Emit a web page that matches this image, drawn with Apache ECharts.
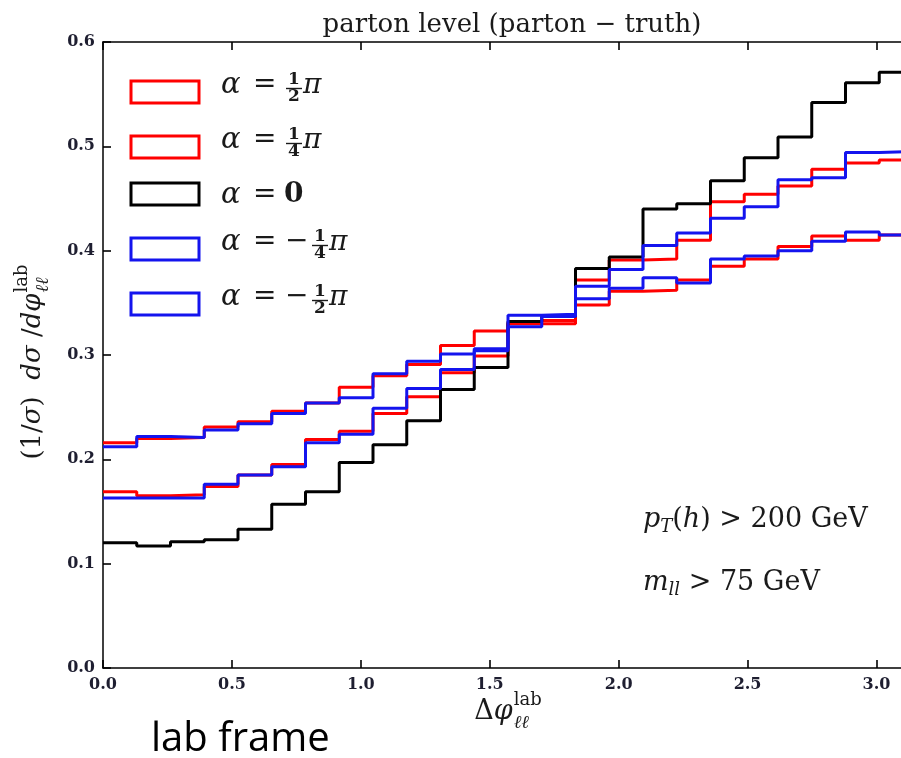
<!DOCTYPE html>
<html><head><meta charset="utf-8">
<script src="https://cdn.jsdelivr.net/npm/echarts@6/dist/echarts.min.js"></script>
<style>html,body{margin:0;padding:0;overflow:hidden;background:#fff;width:901px;height:758px}#c{width:960px;height:758px}</style>
</head><body><div id="c"></div>
<script>
// ---- data ----
const nBins = 24;                       // bins of width pi/24 on [0, pi]
const xTickValues = [0, 0.5, 1.0, 1.5, 2.0, 2.5, 3.0];
const yTickValues = [0, 0.1, 0.2, 0.3, 0.4, 0.5, 0.6];
const seriesNames = ['α = ½π', 'α = ¼π', 'α = 0', 'α = −¼π', 'α = −½π'];
const alphaHalfPi = [0.216, 0.220, 0.221, 0.231, 0.236, 0.246, 0.254, 0.269, 0.280, 0.291, 0.309, 0.323,
                     0.331, 0.333, 0.348, 0.361, 0.362, 0.372, 0.385, 0.392, 0.404, 0.414, 0.410, 0.415];
const alphaQuarterPi = [0.169, 0.165, 0.166, 0.174, 0.185, 0.195, 0.219, 0.227, 0.244, 0.260, 0.283, 0.299,
                        0.330, 0.330, 0.372, 0.391, 0.392, 0.410, 0.447, 0.454, 0.462, 0.478, 0.484, 0.487];
const alphaZero = [0.120, 0.117, 0.121, 0.123, 0.133, 0.157, 0.169, 0.197, 0.214, 0.237, 0.267, 0.288,
                   0.332, 0.337, 0.383, 0.394, 0.440, 0.445, 0.467, 0.489, 0.509, 0.542, 0.561, 0.571];
const alphaMinusQuarterPi = [0.163, 0.163, 0.163, 0.176, 0.185, 0.193, 0.216, 0.224, 0.249, 0.268, 0.286, 0.304,
                             0.338, 0.339, 0.366, 0.382, 0.405, 0.417, 0.431, 0.442, 0.468, 0.470, 0.494, 0.495];
const alphaMinusHalfPi = [0.212, 0.222, 0.221, 0.228, 0.234, 0.244, 0.254, 0.259, 0.282, 0.294, 0.301, 0.306,
                          0.327, 0.337, 0.354, 0.364, 0.374, 0.369, 0.392, 0.395, 0.400, 0.409, 0.418, 0.415];
const seriesValues = [alphaHalfPi, alphaQuarterPi, alphaZero, alphaMinusQuarterPi, alphaMinusHalfPi];
const seriesColors = ['#ff0000', '#ff0000', '#000000', '#1414ee', '#1414ee'];

// ---- build ----
const binEdges = Array.from({length: nBins + 1}, (_, i) => i * Math.PI / nBins);
function stepData(vals) {
  return binEdges.map((e, i) => [e, vals[Math.min(i, vals.length - 1)]]);
}

const mctx = document.createElement('canvas').getContext('2d');
const SERIF = 'DejaVu Serif';
function measure(p) {
  mctx.font = (p.it ? 'italic ' : '') + (p.b ? 'bold ' : '') + p.s + 'px "' + (p.f || SERIF) + '"';
  return mctx.measureText(p.t).width;
}
function txt(p, x, y) {
  return {type: 'text', x: x, y: y, silent: true,
    style: {text: p.t, fontSize: p.s, fontFamily: p.f || SERIF, fontStyle: p.it ? 'italic' : 'normal',
            fontWeight: p.b ? 'bold' : 'normal', fill: p.c || '#1a1a1a', align: 'left', verticalAlign: 'middle'}};
}
// lay out a row of math pieces; stack:true means next piece shares x (sub/sup)
function mathRow(pieces, mode) {
  let x = 0, pending = 0; const kids = [];
  pieces.forEach(p => {
    const wd = measure(p);
    kids.push(txt(p, x + (p.dx || 0), p.dy || 0));
    if (p.stack) pending = Math.max(pending, wd);
    else { x += Math.max(wd, pending) + (p.gap || 0); pending = 0; }
  });
  if (mode === 'center') kids.forEach(k => k.x -= x / 2);
  return {kids, width: x};
}

const graphics = [];
// legend
const legendCy = [92, 147, 194, 249, 304];
const legendFrac = [['1', '2', false], ['1', '4', false], null, ['1', '4', true], ['1', '2', true]];
legendCy.forEach((cy, i) => {
  graphics.push({type: 'rect', silent: true, shape: {x: 131, y: cy - 11, width: 68, height: 22},
    style: {fill: 'none', stroke: seriesColors[i], lineWidth: 3}});
  const fr = legendFrac[i];
  const ty = fr ? cy - 7 : cy + 1;
  graphics.push(txt({t: 'α', s: 29, it: true}, 221, ty));
  graphics.push(txt({t: '=', s: 28}, 253, ty));
  if (!fr) {
    graphics.push(txt({t: '0', s: 28, b: true}, 284, ty));
  } else {
    let fx = 294;
    if (fr[2]) { graphics.push(txt({t: '−', s: 28}, 285, ty)); fx = 320; }
    graphics.push({type: 'text', silent: true, x: fx, y: ty - 5,
      style: {text: fr[0], fontSize: 17, fontFamily: SERIF, fontWeight: 'bold', fill: '#1a1a1a', align: 'center', verticalAlign: 'middle'}});
    graphics.push({type: 'text', silent: true, x: fx, y: ty + 12,
      style: {text: fr[1], fontSize: 17, fontFamily: SERIF, fontWeight: 'bold', fill: '#1a1a1a', align: 'center', verticalAlign: 'middle'}});
    graphics.push({type: 'line', silent: true, shape: {x1: fx - 8, y1: ty + 3.5, x2: fx + 8, y2: ty + 3.5},
      style: {stroke: '#1a1a1a', lineWidth: 1.4}});
    graphics.push(txt({t: 'π', s: 28, it: true}, fx + 9, ty + 1));
  }
});

// annotations
function addRow(pieces, x, y, mode, rot) {
  const r = mathRow(pieces, mode);
  graphics.push({type: 'group', x: x, y: y, rotation: rot || 0, children: r.kids});
}
addRow([{t: 'p', s: 27, it: true}, {t: 'T', s: 18, it: true, dy: 7}, {t: '(', s: 27}, {t: 'h', s: 27, it: true},
        {t: ') > 200 GeV', s: 27}], 643, 520, 'left');
addRow([{t: 'm', s: 27, it: true}, {t: 'll', s: 18, it: true, dy: 7}, {t: ' > 75 GeV', s: 27}], 643, 583, 'left');
// x-axis title
addRow([{t: 'Δ', s: 27}, {t: 'φ', s: 27, it: true, gap: 1}, {t: 'ℓℓ', s: 18, it: true, dy: 11, stack: true},
        {t: 'lab', s: 18, dy: -12}], 508, 712, 'center');
// y-axis title (rotated)
addRow([{t: '(1/', s: 26}, {t: 'σ', s: 26, it: true}, {t: ')  ', s: 26}, {t: 'dσ', s: 26, it: true},
        {t: ' /', s: 26}, {t: 'dφ', s: 26, it: true, gap: 1}, {t: 'ℓℓ', s: 18, it: true, dy: 10, stack: true},
        {t: 'lab', s: 18, dy: -11}], 33, 362, 'center', Math.PI / 2);
// footer caption
graphics.push({type: 'text', silent: true, x: 151, y: 740,
  style: {text: 'lab frame', fontSize: 40, fontFamily: 'Open Sans', fill: '#000', align: 'left', verticalAlign: 'middle'}});

const isTick = (v, arr) => arr.some(t => Math.abs(t - v) < 1e-9);
function axisStyle(showLabels, ticks, margin) {
  return {
    axisLine: {show: true, onZero: false, lineStyle: {color: '#000', width: 1.5}},
    axisTick: {show: true, inside: true, length: 8, lineStyle: {color: '#000', width: 1.6}},
    splitLine: {show: false},
    axisLabel: showLabels
      ? {show: true, margin: margin, fontFamily: SERIF, fontWeight: 'bold', fontSize: 16, color: '#1e1e30',
         formatter: v => isTick(v, ticks) ? v.toFixed(1) : ''}
      : {show: false}
  };
}

const chart = echarts.init(document.getElementById('c'), null, {renderer: 'canvas'});
chart.setOption({
  animation: false,
  backgroundColor: '#fff',
  title: {text: 'parton level (parton − truth)', left: 507, top: 7, textAlign: 'center',
    textStyle: {fontFamily: SERIF, fontWeight: 'normal', fontSize: 26, color: '#1a1a1a'}},
  grid: {left: 103, top: 42, right: 47, bottom: 90, containLabel: false},
  xAxis: [
    Object.assign({type: 'value', min: 0, max: Math.PI, interval: 0.5, position: 'bottom'}, axisStyle(true, xTickValues, 9)),
    Object.assign({type: 'value', min: 0, max: Math.PI, interval: 0.5, position: 'top'}, axisStyle(false))
  ],
  yAxis: [
    Object.assign({type: 'value', min: 0, max: 0.6, interval: 0.1, position: 'left'}, axisStyle(true, yTickValues, 8)),
    Object.assign({type: 'value', min: 0, max: 0.6, interval: 0.1, position: 'right'}, axisStyle(false))
  ],
  series: seriesValues.map((vals, i) => ({
    name: seriesNames[i], type: 'line', step: 'end', showSymbol: false, symbol: 'none',
    xAxisIndex: 0, yAxisIndex: 0, z: 2 + i,
    lineStyle: {color: seriesColors[i], width: 3}, itemStyle: {color: seriesColors[i]},
    data: stepData(vals)
  })),
  graphic: graphics
});
</script></body></html>
